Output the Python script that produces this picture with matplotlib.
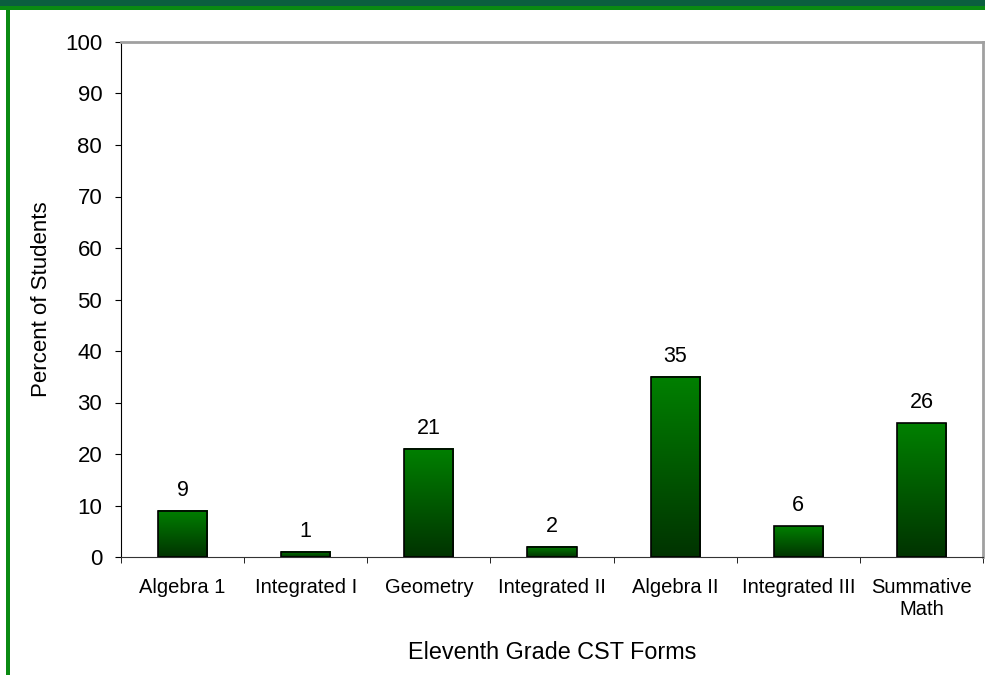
import numpy as np
import matplotlib
matplotlib.use("Agg")
import matplotlib.pyplot as plt
from matplotlib.patches import Rectangle
from matplotlib.colors import LinearSegmentedColormap

plt.rcParams['font.family'] = ['Liberation Sans', 'DejaVu Sans']

forms = ["Algebra 1", "Integrated I", "Geometry", "Integrated II",
         "Algebra II", "Integrated III", "Summative\nMath"]
percents = [9, 1, 21, 2, 35, 6, 26]

fig = plt.figure(figsize=(9.85, 6.75), dpi=100)
fig.patch.set_facecolor("white")

# green frame like the source slide
fig.patches.append(Rectangle((0, 1 - 6 / 675), 1, 6 / 675, transform=fig.transFigure,
                             facecolor="#0b5e3f", edgecolor="none", zorder=0))
fig.patches.append(Rectangle((0, 1 - 10 / 675), 1, 4 / 675, transform=fig.transFigure,
                             facecolor="#0a8a12", edgecolor="none", zorder=0))
fig.patches.append(Rectangle((6 / 985, 0), 4 / 985, 1 - 6 / 675, transform=fig.transFigure,
                             facecolor="#0a8a12", edgecolor="none", zorder=0))

ax = fig.add_axes([121 / 985, 1 - 557 / 675, 862 / 985, 515 / 675])

x = np.arange(len(forms))
bars = ax.bar(x, percents, width=0.4, color="none", edgecolor="black", linewidth=1.2, zorder=3)

cmap = LinearSegmentedColormap.from_list("g", ["#003300", "#008000"])
grad = np.linspace(0, 1, 256).reshape(-1, 1)
for b in bars:
    x0, w, h = b.get_x(), b.get_width(), b.get_height()
    ax.imshow(grad, cmap=cmap, origin="lower", aspect="auto",
              extent=[x0, x0 + w, 0, h], zorder=2)

for xi, v in zip(x, percents):
    ax.annotate(str(v), (xi, v), xytext=(0, 7), textcoords="offset points",
                ha="center", va="bottom", fontsize=15.5)

ax.set_xlim(-0.5, len(forms) - 0.5)
ax.set_ylim(0, 100)
ax.set_yticks(range(0, 101, 10))
ax.tick_params(axis="y", labelsize=16, length=4.5, direction="out", pad=9)

ax.set_xticks(x)
ax.set_xticklabels(forms, fontsize=14.5)
ax.set_xticks(np.arange(-0.5, len(forms)), minor=True)
ax.tick_params(axis="x", which="major", length=0, pad=15)
ax.tick_params(axis="x", which="minor", length=4.5, direction="out")

for s in ["top", "right"]:
    ax.spines[s].set_color("#a0a0a0")
    ax.spines[s].set_linewidth(2)
ax.spines["left"].set_color("black")
ax.spines["bottom"].set_color("#333333")

ax.set_ylabel("Percent of Students", fontsize=16, labelpad=9)
ax.set_xlabel("Eleventh Grade CST Forms", fontsize=16.8, labelpad=16)

fig.savefig("out.png", dpi=100)
